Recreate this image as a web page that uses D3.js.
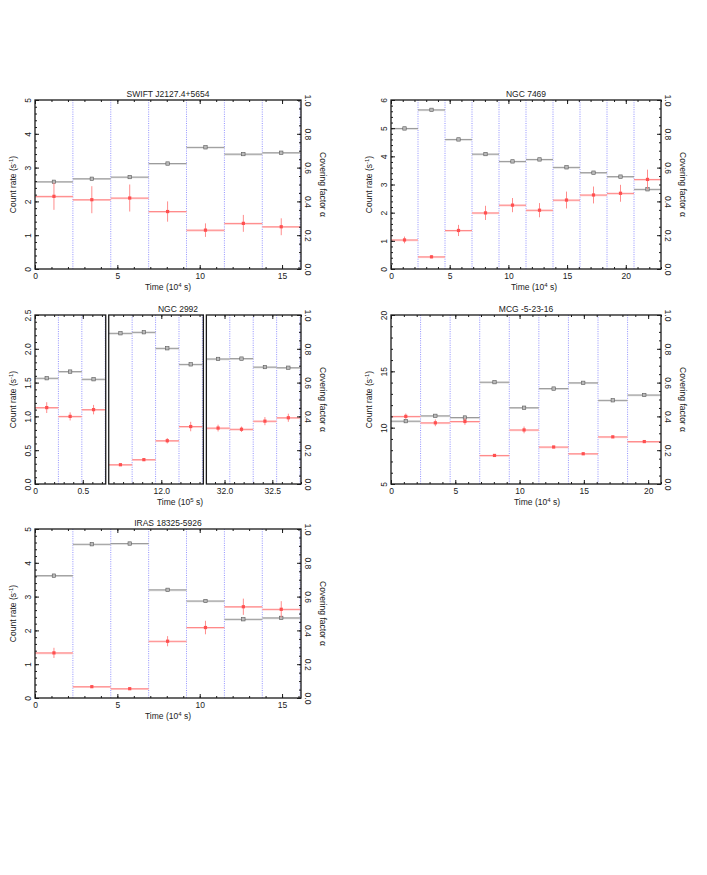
<!DOCTYPE html>
<html>
<head>
<meta charset="utf-8">
<script src="https://cdn.jsdelivr.net/npm/d3@7"></script>
<style>
body { margin: 0; background: #fff; }
svg text { font-family: "Liberation Sans", Arial, Helvetica, sans-serif; fill: #222; }
</style>
</head>
<body>
<svg id="fig" width="707" height="875"></svg>
<script>
// ---------- data (time bins in 1e4 s / 1e5 s, count rate, covering factor) ----------
// SWIFT J2127.4+5654
var swiftEdges = [0, 2.3, 4.6, 6.9, 9.2, 11.5, 13.8, 16.1];
var swiftRate  = [2.58, 2.67, 2.72, 3.12, 3.60, 3.40, 3.44];
var swiftCov   = [0.43, 0.41, 0.42, 0.34, 0.23, 0.27, 0.25];
var swiftErr   = [0.08, 0.08, 0.08, 0.06, 0.04, 0.05, 0.05];

// NGC 7469
var n7469Edges = [0, 2.3, 4.6, 6.9, 9.2, 11.5, 13.8, 16.1, 18.4, 20.7, 23.0];
var n7469Rate  = [4.99, 5.65, 4.60, 4.08, 3.82, 3.89, 3.61, 3.42, 3.28, 2.83];
var n7469Cov   = [0.172, 0.072, 0.228, 0.332, 0.378, 0.348, 0.408, 0.438, 0.448, 0.530];
var n7469Err   = [0.02, 0.008, 0.033, 0.042, 0.042, 0.042, 0.05, 0.05, 0.05, 0.058];

// NGC 2992 (three observations, 1e5 s)
var n2992aEdges = [0, 0.245, 0.49, 0.735];
var n2992aRate  = [1.565, 1.663, 1.55];
var n2992aCov   = [0.452, 0.40, 0.44];
var n2992aErr   = [0.032, 0.024, 0.028];
var n2992bEdges = [11.45, 11.695, 11.94, 12.185, 12.43];
var n2992bRate  = [2.23, 2.245, 2.008, 1.77];
var n2992bCov   = [0.114, 0.144, 0.256, 0.34];
var n2992bErr   = [0.006, 0.008, 0.016, 0.028];
var n2992cEdges = [31.81, 32.055, 32.30, 32.545, 32.79];
var n2992cRate  = [1.85, 1.855, 1.73, 1.72];
var n2992cCov   = [0.331, 0.324, 0.372, 0.392];
var n2992cErr   = [0.02, 0.016, 0.024, 0.024];

// MCG -5-23-16
var mcgEdges = [0, 2.3, 4.6, 6.9, 9.2, 11.5, 13.8, 16.1, 18.4, 21.0];
var mcgRate  = [10.58, 11.05, 10.9, 14.04, 11.77, 13.47, 13.98, 12.43, 12.9];
var mcgCov   = [0.40, 0.362, 0.37, 0.169, 0.32, 0.219, 0.179, 0.279, 0.251];
var mcgErr   = [0.017, 0.02, 0.02, 0.007, 0.02, 0.007, 0.007, 0.007, 0.005];

// IRAS 18325-5926
var irasEdges = [0, 2.3, 4.6, 6.9, 9.2, 11.5, 13.8, 16.1];
var irasRate  = [3.62, 4.55, 4.57, 3.20, 2.87, 2.33, 2.37];
var irasCov   = [0.267, 0.067, 0.055, 0.336, 0.417, 0.54, 0.525];
var irasErr   = [0.03, 0.006, 0.006, 0.03, 0.04, 0.048, 0.048];

var covTicks = [0, 0.2, 0.4, 0.6, 0.8, 1.0];

// ---------- drawing ----------
var svg = d3.select("#fig");

var minorTicks = function(domain, step) {
	var out = [];
	var k0 = Math.ceil(domain[0] / step - 1e-6), k1 = Math.floor(domain[1] / step + 1e-6);
	for (var k = k0; k <= k1; k++) out.push(+(k * step).toFixed(6));
	return out;
};

var panel = function(p) {
	var g = svg.append("g");
	var segs = p.segments;
	var gap = p.gap || 0;
	var units = d3.sum(segs, function(s) { return s.domain[1] - s.domain[0]; });
	var ppu = (p.right - p.left - gap * (segs.length - 1)) / units;

	var y = d3.scaleLinear().domain(p.yDomain).range([p.bottom, p.top]);
	var yc = d3.scaleLinear().domain([0, 1]).range([p.bottom, p.top]);

	var x0 = p.left;
	segs.forEach(function(s) {
		var w = (s.domain[1] - s.domain[0]) * ppu;
		var x = d3.scaleLinear().domain(s.domain).range([x0, x0 + w]).clamp(true);
		var sg = g.append("g");

		// blue dividers between time bins
		sg.selectAll("line.div")
			.data(s.edges.filter(function(e) { return e > s.domain[0] + 1e-6 && e < s.domain[1] - 1e-6; }))
			.enter().append("line")
			.attr("x1", function(d) { return x(d); }).attr("x2", function(d) { return x(d); })
			.attr("y1", p.top).attr("y2", p.bottom)
			.attr("stroke", "#6a6aff").attr("stroke-width", 0.9)
			.attr("stroke-dasharray", "1,1.3").attr("opacity", 0.8);

		var bins = s.rate.map(function(r, i) {
			return {a: s.edges[i], b: s.edges[i + 1], r: r, c: s.cov[i], e: s.err[i]};
		});

		// count rate bins (grey)
		var gb = sg.selectAll("g.rate").data(bins).enter().append("g");
		gb.append("line")
			.attr("x1", function(d) { return x(d.a); }).attr("x2", function(d) { return x(d.b); })
			.attr("y1", function(d) { return y(d.r) + 0.5; }).attr("y2", function(d) { return y(d.r) + 0.5; })
			.attr("stroke", "#d8d8d8").attr("stroke-width", 1.6);
		gb.append("line")
			.attr("x1", function(d) { return x(d.a); }).attr("x2", function(d) { return x(d.b); })
			.attr("y1", function(d) { return y(d.r); }).attr("y2", function(d) { return y(d.r); })
			.attr("stroke", "#7a7a7a").attr("stroke-width", 0.7);
		gb.append("rect")
			.attr("x", function(d) { return x((d.a + d.b) / 2) - 1.7; })
			.attr("y", function(d) { return y(d.r) - 1.7; })
			.attr("width", 3.4).attr("height", 3.4)
			.attr("fill", "#bbb").attr("stroke", "#5a5a5a").attr("stroke-width", 0.6);

		// covering factor bins (red)
		var rb = sg.selectAll("g.cov").data(bins).enter().append("g");
		rb.append("line")
			.attr("x1", function(d) { return x(d.a); }).attr("x2", function(d) { return x(d.b); })
			.attr("y1", function(d) { return yc(d.c) + 0.5; }).attr("y2", function(d) { return yc(d.c) + 0.5; })
			.attr("stroke", "#ffcccc").attr("stroke-width", 1.6);
		rb.append("line")
			.attr("x1", function(d) { return x(d.a); }).attr("x2", function(d) { return x(d.b); })
			.attr("y1", function(d) { return yc(d.c); }).attr("y2", function(d) { return yc(d.c); })
			.attr("stroke", "#ff6666").attr("stroke-width", 0.7);
		rb.append("line")
			.attr("x1", function(d) { return x((d.a + d.b) / 2); }).attr("x2", function(d) { return x((d.a + d.b) / 2); })
			.attr("y1", function(d) { return yc(d.c - d.e); }).attr("y2", function(d) { return yc(d.c + d.e); })
			.attr("stroke", "#ff8080").attr("stroke-width", 0.9);
		rb.append("rect")
			.attr("x", function(d) { return x((d.a + d.b) / 2) - 1.6; })
			.attr("y", function(d) { return yc(d.c) - 1.6; })
			.attr("width", 3.2).attr("height", 3.2)
			.attr("fill", "#ff5050");

		// x axes: bottom with labels, top ticks only
		var xb = sg.append("g").attr("transform", "translate(0," + p.bottom + ")")
			.call(d3.axisBottom(x).tickValues(s.xTicks).tickSize(-4).tickPadding(4)
				.tickFormat(s.xFmt || d3.format("d")));
		xb.select(".domain").remove();
		xb.selectAll("text").attr("font-size", 8.5).attr("fill", "#222");
		sg.append("g").attr("transform", "translate(0," + p.bottom + ")")
			.call(d3.axisBottom(x).tickValues(minorTicks(s.domain, s.xMinor)).tickSize(-2).tickFormat(""))
			.select(".domain").remove();
		sg.append("g").attr("transform", "translate(0," + p.top + ")")
			.call(d3.axisTop(x).tickValues(s.xTicks).tickSize(-4).tickFormat(""))
			.select(".domain").remove();
		sg.append("g").attr("transform", "translate(0," + p.top + ")")
			.call(d3.axisTop(x).tickValues(minorTicks(s.domain, s.xMinor)).tickSize(-2).tickFormat(""))
			.select(".domain").remove();

		// frame
		sg.append("rect")
			.attr("x", x0).attr("y", p.top).attr("width", w).attr("height", p.bottom - p.top)
			.attr("fill", "none").attr("stroke", "#1a1a1a").attr("stroke-width", 1.3);

		x0 += w + gap;
	});

	// left axis (count rate)
	var ya = g.append("g").attr("transform", "translate(" + p.left + ",0)")
		.call(d3.axisLeft(y).tickValues(p.yTicks).tickSize(-4).tickFormat(p.yFmt));
	ya.select(".domain").remove();
	ya.selectAll("text")
		.attr("x", null).attr("dy", null)
		.attr("transform", "translate(-7,0) rotate(-90)")
		.attr("text-anchor", "middle").attr("dominant-baseline", "central")
		.attr("font-size", 8.5).attr("fill", "#222");
	g.append("g").attr("transform", "translate(" + p.left + ",0)")
		.call(d3.axisLeft(y).tickValues(minorTicks(p.yDomain, p.yMinor)).tickSize(-2).tickFormat(""))
		.select(".domain").remove();

	// right axis (covering factor)
	var yr = g.append("g").attr("transform", "translate(" + p.right + ",0)")
		.call(d3.axisRight(yc).tickValues(covTicks).tickSize(-4).tickFormat(d3.format(".1f")));
	yr.select(".domain").remove();
	yr.selectAll("text")
		.attr("x", null).attr("dy", null)
		.attr("transform", "translate(7,0) rotate(90)")
		.attr("text-anchor", "middle").attr("dominant-baseline", "central")
		.attr("font-size", 8.5).attr("fill", "#222");
	g.append("g").attr("transform", "translate(" + p.right + ",0)")
		.call(d3.axisRight(yc).tickValues(minorTicks([0, 1], 0.05)).tickSize(-2).tickFormat(""))
		.select(".domain").remove();
	g.selectAll(".tick line").attr("stroke", "#1a1a1a").attr("stroke-width", 1);

	// texts
	var midY = (p.top + p.bottom) / 2;
	g.append("text").attr("x", p.titleX).attr("y", p.top - 3.5)
		.attr("text-anchor", "middle").attr("font-size", 8.5).text(p.title);

	var xt = g.append("text").attr("x", p.xTitleX).attr("y", p.bottom + 21)
		.attr("text-anchor", "middle").attr("font-size", 8.5);
	xt.append("tspan").text("Time (10");
	xt.append("tspan").attr("font-size", 6).attr("dy", -3.5).text(p.xExp);
	xt.append("tspan").attr("dy", 3.5).text(" s)");

	var yt = g.append("text")
		.attr("transform", "translate(" + (p.left - 19) + "," + midY + ") rotate(-90)")
		.attr("text-anchor", "middle").attr("font-size", 8.5);
	yt.append("tspan").text("Count rate (s");
	yt.append("tspan").attr("font-size", 6).attr("dy", -3.5).text("-1");
	yt.append("tspan").attr("dy", 3.5).text(")");

	g.append("text")
		.attr("transform", "translate(" + (p.right + 19) + "," + midY + ") rotate(90)")
		.attr("text-anchor", "middle").attr("font-size", 8.5)
		.text("Covering factor \u03b1");
};

panel({
	left: 35, right: 301, top: 100, bottom: 269,
	title: "SWIFT J2127.4+5654", titleX: 168, xTitleX: 168, xExp: "4",
	yDomain: [0, 5], yTicks: [0, 1, 2, 3, 4, 5], yMinor: 0.2, yFmt: d3.format("d"),
	segments: [{domain: [0, 16.15], edges: swiftEdges, rate: swiftRate, cov: swiftCov, err: swiftErr,
		xTicks: [0, 5, 10, 15], xMinor: 1}]
});

panel({
	left: 391, right: 661, top: 100, bottom: 269,
	title: "NGC 7469", titleX: 526, xTitleX: 534, xExp: "4",
	yDomain: [0, 6], yTicks: [0, 1, 2, 3, 4, 5, 6], yMinor: 0.2, yFmt: d3.format("d"),
	segments: [{domain: [0, 23.0], edges: n7469Edges, rate: n7469Rate, cov: n7469Cov, err: n7469Err,
		xTicks: [0, 5, 10, 15, 20], xMinor: 1}]
});

panel({
	left: 35, right: 301, top: 315, bottom: 484, gap: 3,
	title: "NGC 2992", titleX: 178, xTitleX: 180, xExp: "5",
	yDomain: [0, 2.5], yTicks: [0, 0.5, 1, 1.5, 2, 2.5], yMinor: 0.1, yFmt: d3.format(".1f"),
	segments: [
		{domain: [0, 0.74], edges: n2992aEdges, rate: n2992aRate, cov: n2992aCov, err: n2992aErr,
			xTicks: [0, 0.5], xMinor: 0.1, xFmt: function(d) { return d === 0 ? "0" : d3.format(".1f")(d); }},
		{domain: [11.45, 12.44], edges: n2992bEdges, rate: n2992bRate, cov: n2992bCov, err: n2992bErr,
			xTicks: [12.0], xMinor: 0.1, xFmt: d3.format(".1f")},
		{domain: [31.81, 32.80], edges: n2992cEdges, rate: n2992cRate, cov: n2992cCov, err: n2992cErr,
			xTicks: [32.0, 32.5], xMinor: 0.1, xFmt: d3.format(".1f")}
	]
});

panel({
	left: 391, right: 661, top: 315, bottom: 484,
	title: "MCG -5-23-16", titleX: 526, xTitleX: 537, xExp: "4",
	yDomain: [5, 20], yTicks: [5, 10, 15, 20], yMinor: 1, yFmt: d3.format("d"),
	segments: [{domain: [0, 21.0], edges: mcgEdges, rate: mcgRate, cov: mcgCov, err: mcgErr,
		xTicks: [0, 5, 10, 15, 20], xMinor: 1}]
});

panel({
	left: 35, right: 301, top: 529, bottom: 698,
	title: "IRAS 18325-5926", titleX: 168, xTitleX: 168, xExp: "4",
	yDomain: [0, 5], yTicks: [0, 1, 2, 3, 4, 5], yMinor: 0.2, yFmt: d3.format("d"),
	segments: [{domain: [0, 16.15], edges: irasEdges, rate: irasRate, cov: irasCov, err: irasErr,
		xTicks: [0, 5, 10, 15], xMinor: 1}]
});
</script>
</body>
</html>
